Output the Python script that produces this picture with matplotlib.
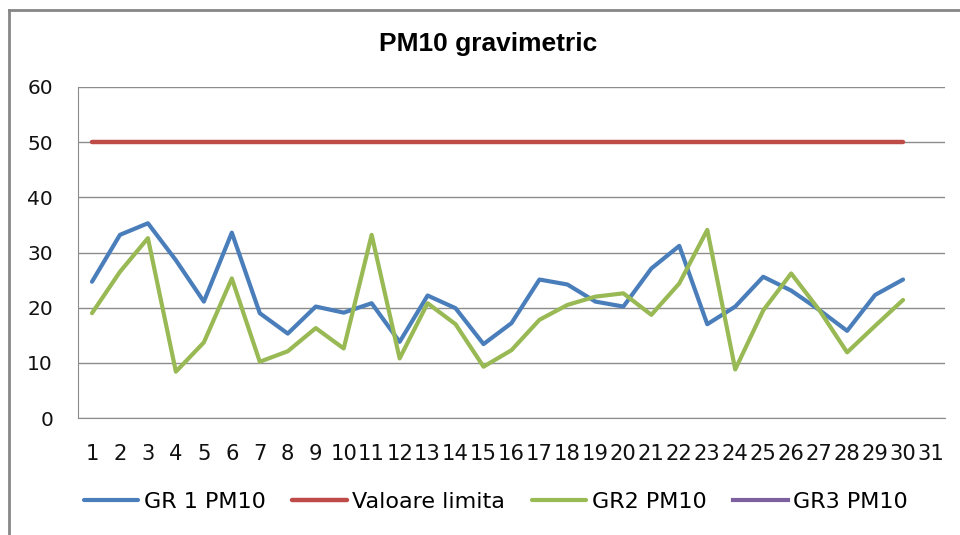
import numpy as np
import matplotlib
matplotlib.use('Agg')
import matplotlib.pyplot as plt
from matplotlib.lines import Line2D

# Datos
zile = list(range(1, 32))
gr1_pm10 = [24.7, 33.2, 35.3, 28.6, 21.1, 33.6, 19.0, 15.3, 20.2, 19.1,
            20.8, 13.8, 22.2, 19.9, 13.4, 17.2, 25.1, 24.2, 21.1, 20.2,
            27.1, 31.2, 17.0, 20.2, 25.6, 23.1, 19.6, 15.8, 22.3, 25.1]
valoare_limita = [50] * 30
gr2_pm10 = [19.0, 26.5, 32.6, 8.4, 13.7, 25.3, 10.2, 12.1, 16.3, 12.6,
            33.2, 10.8, 20.8, 17.0, 9.3, 12.3, 17.8, 20.5, 22.0, 22.6,
            18.7, 24.4, 34.1, 8.8, 19.5, 26.2, 19.6, 11.9, 16.7, 21.4]
gr3_pm10 = []

fig = plt.figure(figsize=(9.6, 5.35), dpi=100)
ax = fig.add_axes([78 / 960, 1 - 418 / 535, (945 - 78) / 960, (418 - 87) / 535])

ax.plot(zile[:len(gr1_pm10)], gr1_pm10, color='#4a7ebb', lw=3, label='GR 1 PM10', solid_capstyle='round')
ax.plot(zile[:len(valoare_limita)], valoare_limita, color='#be4b48', lw=3.2, label='Valoare limita', solid_capstyle='round')
ax.plot(zile[:len(gr2_pm10)], gr2_pm10, color='#98b954', lw=3, label='GR2 PM10', solid_capstyle='round')
ax.plot(zile[:len(gr3_pm10)], gr3_pm10, color='#7d60a0', lw=3, label='GR3 PM10')

ax.set_xlim(0.5, 31.5)
ax.set_ylim(0, 60)
ax.set_yticks(range(0, 61, 10))
ax.set_xticks(zile)
ax.set_xticklabels([str(z) for z in zile])
ax.tick_params(axis='both', length=0, labelsize=14.5, colors='#111111')
ax.tick_params(axis='x', labelsize=15.2, pad=19)
ax.tick_params(axis='y', pad=18)
ax.grid(axis='y', color='#8c8c8c', lw=1)
ax.set_axisbelow(True)
for s in ['top', 'right']:
    ax.spines[s].set_visible(False)
ax.spines['left'].set_color('#8c8c8c')
ax.spines['bottom'].set_color('#8c8c8c')

fig.text(488 / 960, 1 - 44 / 535, 'PM10 gravimetric', ha='center', va='center',
         fontsize=19, fontweight='bold', family='Liberation Sans')

fig.legend(loc='center', bbox_to_anchor=(496 / 960, 1 - 502 / 535), ncol=4, frameon=False,
           fontsize=16, handlelength=2.45, handletextpad=0.25, columnspacing=1.2)

# Borde exterior
fig.add_artist(Line2D([9 / 960, 1], [1 - 10 / 535, 1 - 10 / 535], color='#868686', lw=2))
fig.add_artist(Line2D([9 / 960, 9 / 960], [0, 1 - 10 / 535], color='#868686', lw=2))

fig.savefig('out.png', dpi=100)
